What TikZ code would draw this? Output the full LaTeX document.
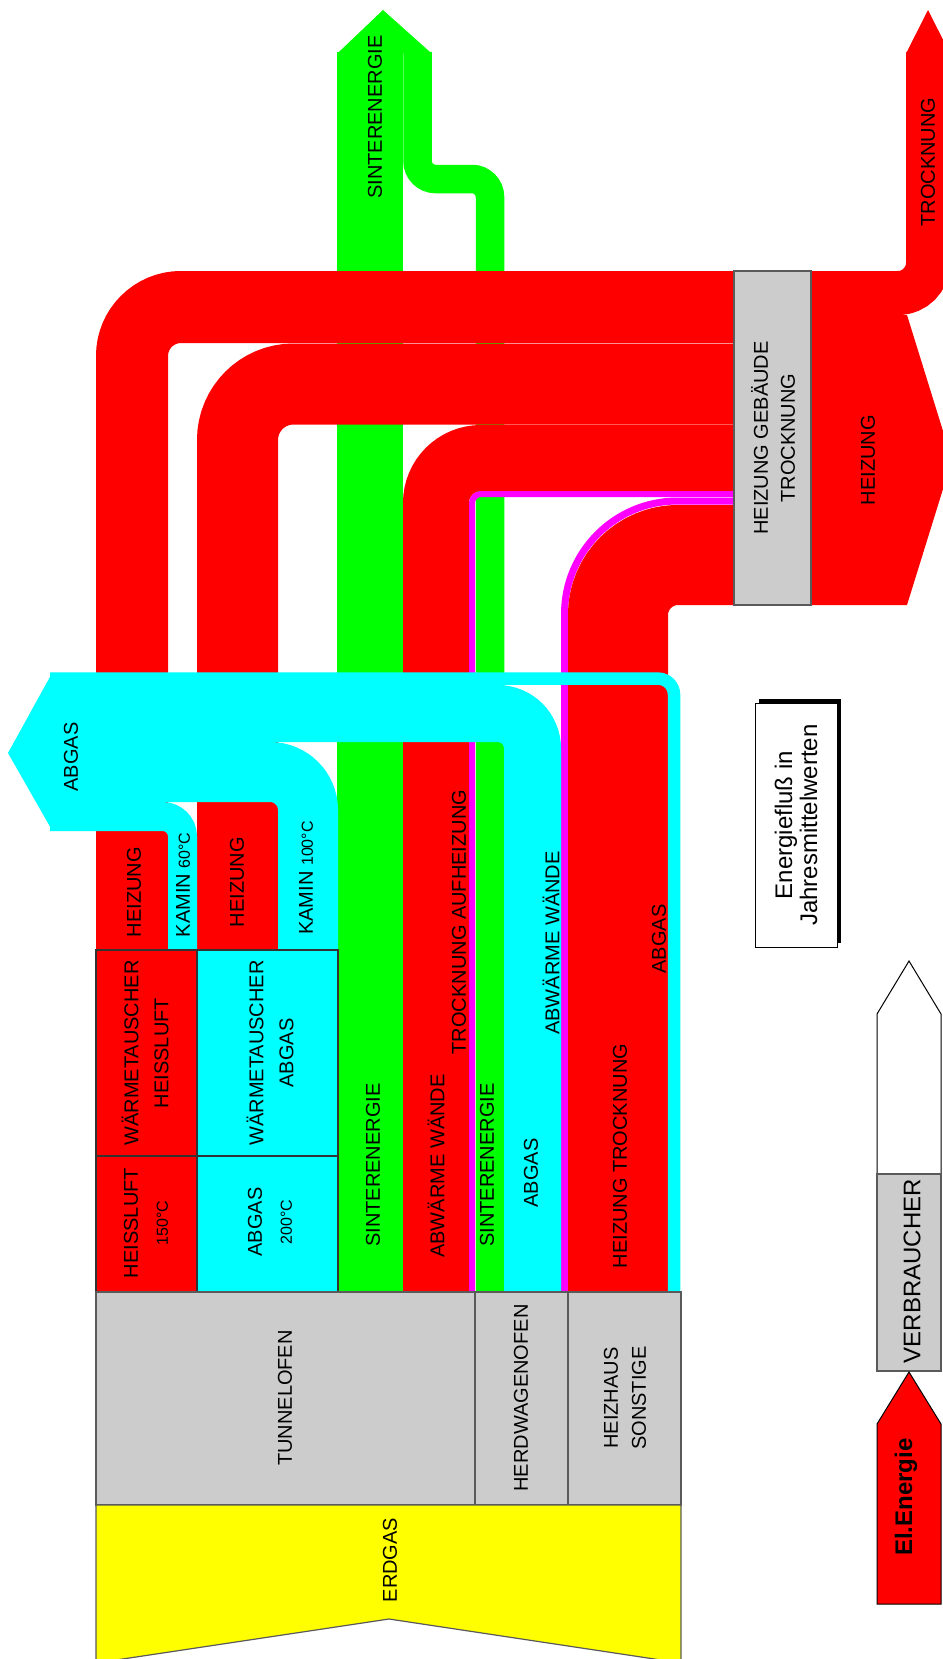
\documentclass[tikz,border=0pt]{standalone}
\usepackage{fontspec}
\setmainfont{Liberation Sans}
\usepackage{xcolor}
\definecolor{flowred}{RGB}{255,0,0}
\definecolor{flowgreen}{RGB}{0,255,0}
\definecolor{flowcyan}{RGB}{0,255,255}
\definecolor{flowmagenta}{RGB}{255,0,255}
\definecolor{gasyellow}{RGB}{255,255,0}
\definecolor{unitgray}{RGB}{204,204,204}
\definecolor{edgegray}{RGB}{90,90,90}

\begin{document}
\begin{tikzpicture}[x=1pt,y=-1pt]
        \tikzset{
    flow/.style={line width=#1pt},
    unit/.style={draw=edgegray, line width=1.2pt},
    txt/.style={rotate=90, inner sep=0pt, align=center, font=\fontsize{20}{30}\selectfont},
    legend/.style={rotate=90, inner sep=0pt, align=center, font=\fontsize{24}{25}\selectfont},
        }
        \def\degC#1{{\fontsize{16}{19}\selectfont #1}}

        \path[use as bounding box, fill=white] (0,0) rectangle (942,1659);

        % Sinterenergie first, the red flows pass over it.
        \draw[flowgreen, flow=65.5] (370,1292) -- (370,52);
        \draw[flowgreen, flow=28.5, rounded corners=18] (490,1292) -- (490,179) -- (417.5,179) -- (417.5,52);
        \fill[flowgreen] (337.3,53.5) -- (383,10) -- (431.7,53.5) -- cycle;

        % Heizung flows into the building box.
        \draw[flowred, flow=72, rounded corners=49] (132,950) -- (132,307) -- (740,307);
        \draw[flowred, flow=81, rounded corners=56] (237.5,950) -- (237.5,384) -- (740,384);
        \draw[flowred, flow=66, rounded corners=45] (436,1292) -- (436,458) -- (740,458);
        \draw[flowmagenta, flow=6, rounded corners=9] (472,1292) -- (472,494) -- (740,494);
        \draw[flowmagenta, flow=7, rounded corners=113] (564.5,1292) -- (564.5,501) -- (740,501);
        \draw[flowred, flow=100, rounded corners=60] (618,1292) -- (618,555) -- (740,555);

        % Outputs of the building box.
        \draw[flowred, flow=44, rounded corners=30] (805,293) -- (928,293) -- (928,52);
        \fill[flowred] (906,53.5) -- (928,10) -- (950,53.5) -- cycle;
        \fill[flowred] (805,315) -- (907,315) -- (952,460) -- (907,605) -- (805,605) -- cycle;
        \draw[unit, fill=unitgray] (734,271) rectangle (811,605);

        % Abgas lies on top of everything.
        \draw[flowcyan, flow=12.5, rounded corners=16] (674,1292) -- (674,678.6) -- (50,678.6);
        \draw[flowcyan, flow=57, rounded corners=35] (532.5,1292) -- (532.5,713.5) -- (50,713.5);
        \draw[flowcyan, flow=60, rounded corners=38] (308,950) -- (308,772) -- (50,772);
        \draw[flowcyan, flow=29, rounded corners=20] (182.5,950) -- (182.5,816.5) -- (50,816.5);
        \fill[flowcyan] (52.5,672.3) -- (8,753) -- (52.5,831) -- cycle;

        % Heat exchangers.
        \draw[unit, draw=black!80, fill=flowred] (96,950) rectangle (197,1156);
        \draw[unit, draw=black!80, fill=flowred] (96,1156) rectangle (197,1292);
        \draw[unit, draw=black!80, fill=flowcyan] (197,950) rectangle (338,1156);
        \draw[unit, draw=black!80, fill=flowcyan] (197,1156) rectangle (338,1292);

        % Furnaces and gas supply.
        \draw[unit, fill=unitgray] (96,1292) rectangle (475,1505);
        \draw[unit, fill=unitgray] (475,1292) rectangle (568,1505);
        \draw[unit, fill=unitgray] (568,1292) rectangle (681,1505);
        \draw[unit, fill=gasyellow] (96,1505) -- (681,1505) -- (681,1663) -- (389,1619) -- (96,1663) -- cycle;

        % Legend.
        \fill[black] (758.5,699) rectangle (841,943);
        \draw[black, line width=1pt, fill=white] (755,703) rectangle (837,947);
        \draw[black, line width=1pt, fill=white] (877,1174) -- (877,1014) -- (909,961) -- (941,1014) -- (941,1174) -- cycle;
        \draw[unit, fill=unitgray] (877,1174) rectangle (941,1371);
        \draw[black, line width=1pt, fill=flowred] (877,1604) -- (877,1424) -- (909,1372) -- (941,1424) -- (941,1604) -- cycle;

        % Labels last.
        \path (375,117)    node[txt] (sinterout)  {SINTERENERGIE};
        \path (928,162)    node[txt] (trockout)   {TROCKNUNG};
        \path (773,438)    node[txt, font=\fontsize{20}{27}\selectfont] (gebaeude) {HEIZUNG GEBÄUDE\\TROCKNUNG};
        \path (868,460)    node[txt] (heizout)    {HEIZUNG};
        \path (71,757)     node[txt] (abgasout)   {ABGAS};
        \path (134,892)    node[txt] (heiz1)      {HEIZUNG};
        \path (183,885)    node[txt] (kamin1)     {KAMIN \degC{60°C}};
        \path (237,882)    node[txt] (heiz2)      {HEIZUNG};
        \path (306,878)    node[txt] (kamin2)     {KAMIN \degC{100°C}};
        \path (145,1053)   node[txt] (wtheiss)    {WÄRMETAUSCHER\\HEISSLUFT};
        \path (270,1053)   node[txt] (wtabgas)    {WÄRMETAUSCHER\\ABGAS};
        \path (146,1223)   node[txt] (heissluft)  {HEISSLUFT\\\degC{150°C}};
        \path (270,1222)   node[txt] (abgas200)   {ABGAS\\\degC{200°C}};
        \path (373,1165)   node[txt] (sinter1)    {SINTERENERGIE};
        \path (436,1166)   node[txt] (abwaerme1)  {ABWÄRME WÄNDE};
        \path (459,922)    node[txt] (aufheiz)    {TROCKNUNG AUFHEIZUNG};
        \path (487,1165)   node[txt] (sinter2)    {SINTERENERGIE};
        \path (531,1173)   node[txt] (abgas2)     {ABGAS};
        \path (551,943)    node[txt] (abwaerme2)  {ABWÄRME WÄNDE};
        \path (620,1156)   node[txt] (heiztrock)  {HEIZUNG TROCKNUNG};
        \path (659,939)    node[txt] (abgas3)     {ABGAS};
        \path (285,1398)   node[txt] (tunnel)     {TUNNELOFEN};
        \path (521,1398)   node[txt] (herdwagen)  {HERDWAGENOFEN};
        \path (625,1398)   node[txt, font=\fontsize{20}{28}\selectfont] (heizhaus) {HEIZHAUS\\SONSTIGE};
        \path (390,1560)   node[txt] (erdgas)     {ERDGAS};
        \path (796,825)    node[legend] (note)    {Energiefluß in\\Jahresmittelwerten};
        \path (912,1271)   node[legend] (verbr)   {VERBRAUCHER};
        \path (906,1497)   node[legend, font=\fontsize{24}{25}\selectfont\bfseries] (elen) {El.Energie};
      \end{tikzpicture}
\end{document}
